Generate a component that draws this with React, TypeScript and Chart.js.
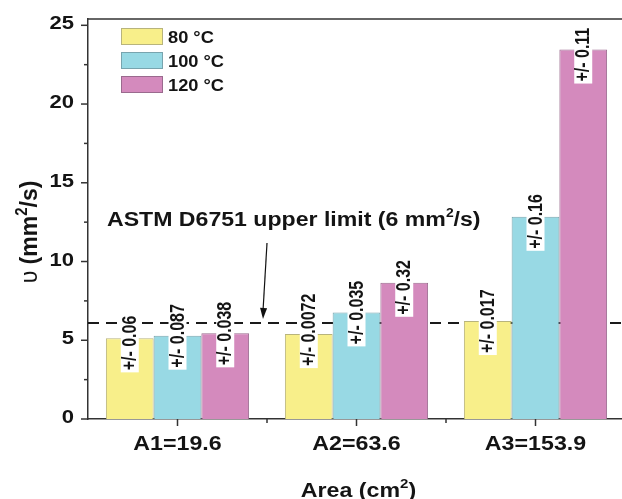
import React, { useEffect, useRef } from "react";
import { Chart, registerables } from "chart.js";

Chart.register(...registerables);

const categories = ["A1=19.6", "A2=63.6", "A3=153.9"];
const seriesLabels = ["80 °C", "100 °C", "120 °C"];
const values80 = [5.12, 5.39, 6.22];
const values100 = [5.29, 6.77, 12.84];
const values120 = [5.44, 8.65, 23.46];
const errors80 = ["0.06", "0.0072", "0.017"];
const errors100 = ["0.087", "0.035", "0.16"];
const errors120 = ["0.038", "0.32", "0.11"];
const yTickValues = [0, 5, 10, 15, 20, 25];
const yMinorTickValues = [2.5, 7.5, 12.5, 17.5, 22.5];
const limitValue = 6.1;
const limitText = ["ASTM D6751 upper limit (6 mm", "2", "/s)"];

const fillColors = ["#F8EF8A", "#98D9E4", "#D48ABD"];
const borderColors = ["#b8b47c", "#78a4ae", "#9a6a8e"];

const FONT = '"Liberation Sans", Arial, Helvetica, sans-serif';
const SX = 1.16;
const INK = "#141414";

type Part = { t: string; font: string; dy?: number };

function drawParts(
  ctx: CanvasRenderingContext2D,
  parts: Part[],
  x: number,
  y: number,
  angle: number,
  align: "left" | "center" | "right",
  sx: number
) {
  ctx.save();
  ctx.translate(x, y);
  ctx.rotate(angle);
  if (angle === 0) ctx.scale(sx, 1);
  else ctx.scale(1, sx);
  ctx.textBaseline = "alphabetic";
  ctx.textAlign = "left";
  ctx.fillStyle = INK;
  const widths = parts.map((p) => {
    ctx.font = p.font;
    return ctx.measureText(p.t).width;
  });
  const total = widths.reduce((a, b) => a + b, 0);
  let cx = align === "center" ? -total / 2 : align === "right" ? -total : 0;
  parts.forEach((p, i) => {
    ctx.font = p.font;
    ctx.fillText(p.t, cx, p.dy || 0);
    cx += widths[i];
  });
  ctx.restore();
}

const customDraw = {
  id: "customDraw",
  beforeDatasetsDraw(chart: any) {
    const ctx: CanvasRenderingContext2D = chart.ctx;
    const { left, right, top } = chart.chartArea;
    const y = chart.scales.y.getPixelForValue(limitValue);
    ctx.save();
    ctx.strokeStyle = "#333";
    ctx.lineWidth = 1.5;
    ctx.beginPath();
    ctx.moveTo(left, top);
    ctx.lineTo(right, top);
    ctx.stroke();
    ctx.strokeStyle = "#1a1a1a";
    ctx.lineWidth = 2;
    ctx.setLineDash([11, 7]);
    ctx.beginPath();
    ctx.moveTo(left, y);
    ctx.lineTo(right, y);
    ctx.stroke();
    ctx.restore();
  },
  afterDatasetsDraw(chart: any) {
    const ctx: CanvasRenderingContext2D = chart.ctx;
    const xs = chart.scales.x;
    const ys = chart.scales.y;
    const { left, top, bottom } = chart.chartArea;
    const errs = [errors80, errors100, errors120];

    // error labels
    const labelFont = "bold 16px " + FONT;
    chart.data.datasets.forEach((_: any, di: number) => {
      const meta = chart.getDatasetMeta(di);
      meta.data.forEach((bar: any, j: number) => {
        const text = "+/- " + errs[di][j];
        ctx.save();
        ctx.font = labelFont;
        const tw = ctx.measureText(text).width;
        const base = bar.y + 34;
        ctx.fillStyle = "#ffffff";
        ctx.fillRect(bar.x - 9, base - tw - 5, 18, tw + 5);
        ctx.translate(bar.x, base - 2);
        ctx.rotate(-Math.PI / 2);
        ctx.scale(1, 1.25);
        ctx.fillStyle = INK;
        ctx.textAlign = "left";
        ctx.textBaseline = "middle";
        ctx.fillText(text, 0, 0.5);
        ctx.restore();
      });
    });

    // ticks and tick labels
    ctx.save();
    ctx.strokeStyle = "#333";
    ctx.lineWidth = 1.5;
    yTickValues.forEach((v) => {
      const py = ys.getPixelForValue(v);
      ctx.beginPath();
      ctx.moveTo(left, py);
      ctx.lineTo(left - 7, py);
      ctx.stroke();
      drawParts(ctx, [{ t: String(v), font: "bold 19px " + FONT }], left - 14, py + 4, 0, "right", SX);
    });
    yMinorTickValues.forEach((v) => {
      const py = ys.getPixelForValue(v);
      ctx.beginPath();
      ctx.moveTo(left, py);
      ctx.lineTo(left - 4, py);
      ctx.stroke();
    });
    categories.forEach((c, i) => {
      const px = xs.getPixelForValue(i);
      ctx.beginPath();
      ctx.moveTo(px, bottom);
      ctx.lineTo(px, bottom + 7);
      ctx.stroke();
      if (i > 0) {
        const bx = (px + xs.getPixelForValue(i - 1)) / 2;
        ctx.beginPath();
        ctx.moveTo(bx, bottom);
        ctx.lineTo(bx, bottom + 4);
        ctx.stroke();
      }
      drawParts(ctx, [{ t: c, font: "bold 20px " + FONT }], px, bottom + 31, 0, "center", SX);
    });
    ctx.restore();

    // axis titles
    const midX = (xs.getPixelForValue(0) + xs.getPixelForValue(categories.length - 1)) / 2;
    drawParts(
      ctx,
      [
        { t: "Area (cm", font: "bold 20px " + FONT },
        { t: "2", font: "bold 13px " + FONT, dy: -9 },
        { t: ")", font: "bold 20px " + FONT },
      ],
      midX + 2,
      bottom + 78,
      0,
      "center",
      SX
    );
    drawParts(
      ctx,
      [
        { t: "υ ", font: "23px " + FONT },
        { t: "(mm", font: "bold 23px " + FONT },
        { t: "2", font: "bold 15px " + FONT, dy: -10 },
        { t: "/s)", font: "bold 23px " + FONT },
      ],
      37,
      232,
      -Math.PI / 2,
      "center",
      1.05
    );

    // legend
    ctx.save();
    seriesLabels.forEach((lab, i) => {
      const bx = left + 33;
      const by = top + 9 + i * 24;
      ctx.fillStyle = fillColors[i];
      ctx.fillRect(bx, by, 42, 17);
      ctx.strokeStyle = borderColors[i];
      ctx.lineWidth = 1;
      ctx.strokeRect(bx + 0.5, by + 0.5, 41, 16);
      drawParts(ctx, [{ t: lab, font: "bold 16px " + FONT }], bx + 47, by + 15, 0, "left", 1.14);
    });
    ctx.restore();

    // annotation text + arrow
    const ly = ys.getPixelForValue(limitValue);
    drawParts(
      ctx,
      [
        { t: limitText[0], font: "bold 20px " + FONT },
        { t: limitText[1], font: "bold 12px " + FONT, dy: -9 },
        { t: limitText[2], font: "bold 20px " + FONT },
      ],
      left + 19,
      226,
      0,
      "left",
      1.155
    );
    const ax = (xs.getPixelForValue(0) + xs.getPixelForValue(1)) / 2;
    const x0 = ax;
    const y0 = 243;
    const x1 = ax - 4;
    const y1 = ly - 4;
    ctx.save();
    ctx.strokeStyle = "#111";
    ctx.fillStyle = "#111";
    ctx.lineWidth = 1.2;
    ctx.beginPath();
    ctx.moveTo(x0, y0);
    ctx.lineTo(x1, y1 - 8);
    ctx.stroke();
    const ang = Math.atan2(y1 - y0, x1 - x0);
    ctx.beginPath();
    ctx.moveTo(x1, y1);
    ctx.lineTo(x1 - 11 * Math.cos(ang) + 3.5 * Math.sin(ang), y1 - 11 * Math.sin(ang) - 3.5 * Math.cos(ang));
    ctx.lineTo(x1 - 11 * Math.cos(ang) - 3.5 * Math.sin(ang), y1 - 11 * Math.sin(ang) + 3.5 * Math.cos(ang));
    ctx.closePath();
    ctx.fill();
    ctx.restore();
  },
};

export default function App() {
  const ref = useRef<HTMLCanvasElement | null>(null);
  useEffect(() => {
    if (!ref.current) return;
    const chart = new Chart(ref.current, {
      type: "bar",
      data: {
        labels: categories,
        datasets: [values80, values100, values120].map((vals, i) => ({
          label: seriesLabels[i],
          data: vals,
          backgroundColor: fillColors[i],
          borderColor: borderColors[i],
          borderWidth: 1,
          categoryPercentage: 0.8,
          barPercentage: 1.0,
        })),
      },
      options: {
        animation: false,
        responsive: false,
        devicePixelRatio: 1,
        layout: { padding: { left: 0, top: 19, right: 15, bottom: 0 } },
        plugins: { legend: { display: false }, tooltip: { enabled: false } },
        scales: {
          x: {
            type: "category",
            offset: true,
            grid: { display: false, drawTicks: false },
            border: { display: true, color: "#333", width: 1.5 },
            ticks: { display: false },
            afterFit: (s: any) => {
              s.height = 80;
            },
          },
          y: {
            min: 0,
            max: 25.4,
            grid: { display: false, drawTicks: false },
            border: { display: true, color: "#333", width: 1.5 },
            ticks: { display: false },
            afterFit: (s: any) => {
              s.width = 88;
            },
          },
        },
      },
      plugins: [customDraw],
    });
    return () => chart.destroy();
  }, []);
  return (
    <div style={{ position: "fixed", left: 0, top: 0, width: 622, height: 499, overflow: "hidden", background: "#fff" }}>
      <canvas ref={ref} width={640} height={499} style={{ width: 640, height: 499, display: "block" }} />
    </div>
  );
}
